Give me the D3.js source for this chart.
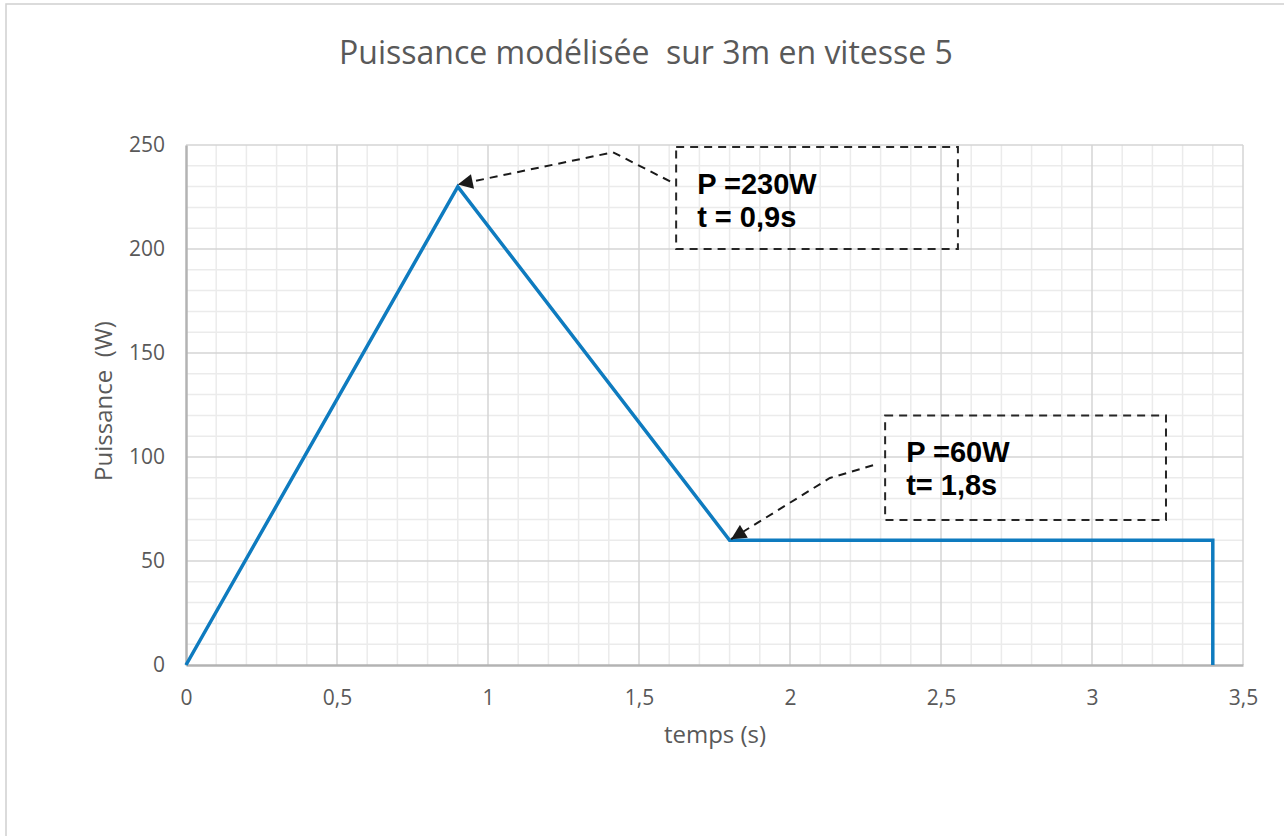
<!DOCTYPE html>
<html>
<head>
<meta charset="utf-8">
<script src="https://cdn.jsdelivr.net/npm/d3@7"></script>
<style>
  body { margin: 0; background: #fff; }
  text { font-family: "Open Sans", sans-serif; }
</style>
</head>
<body>
<div id="chart"></div>
<script>
var svgWidth = 1284;
var svgHeight = 836;

var margin = { top: 145, right: 41, bottom: 171, left: 186 };
var width = svgWidth - margin.left - margin.right;
var height = svgHeight - margin.top - margin.bottom;

// data
var temps = [0, 0.9, 1.8, 3.4, 3.4];
var puissance = [0, 230, 60, 60, 0];
var xTicks = [0, 0.5, 1, 1.5, 2, 2.5, 3, 3.5];
var yTicks = [0, 50, 100, 150, 200, 250];

// annotation boxes (data units) and their texts
var boxX = [[1.623, 2.556], [2.315, 3.245]];
var boxY = [[249, 200], [120, 69.7]];
var boxLines = [["P =230W", "t = 0,9s"], ["P =60W", "t= 1,8s"]];
// leader lines, last point is the arrow tip
var leaderT = [[1.603, 1.414, 0.9], [2.275, 2.132, 1.805]];
var leaderP = [[232.5, 246.5, 231], [96, 89.9, 60.5]];

var svg = d3.select("#chart")
  .append("svg")
  .attr("width", svgWidth)
  .attr("height", svgHeight);

// outer chart border (only top and left show)
svg.append("rect")
  .attr("x", 6).attr("y", 4)
  .attr("width", 1300).attr("height", 900)
  .attr("fill", "none")
  .attr("stroke", "#d0d0d0")
  .attr("stroke-width", 1.5);

var defs = svg.append("defs");
defs.append("marker")
  .attr("id", "arrow")
  .attr("viewBox", "0 0 10 10")
  .attr("refX", 10).attr("refY", 5)
  .attr("markerWidth", 17).attr("markerHeight", 15)
  .attr("markerUnits", "userSpaceOnUse")
  .attr("orient", "auto")
  .append("path")
  .attr("d", "M0,0 L10,5 L0,10 z")
  .attr("fill", "#1a1a1a");

var chartGroup = svg.append("g")
  .attr("transform", `translate(${margin.left}, ${margin.top})`);

var x = d3.scaleLinear().domain([0, 3.5]).range([0, width]);
var y = d3.scaleLinear().domain([0, 250]).range([height, 0]);

// minor grid
chartGroup.append("g")
  .selectAll("line")
  .data(d3.range(1, 35).map(d => d / 10).filter(d => Math.round(d * 10) % 5 != 0))
  .enter().append("line")
  .attr("x1", d => x(d)).attr("x2", d => x(d))
  .attr("y1", 0).attr("y2", height)
  .attr("stroke", "#ebebeb").attr("stroke-width", 1.5);

chartGroup.append("g")
  .selectAll("line")
  .data(d3.range(10, 250, 10).filter(d => d % 50 != 0))
  .enter().append("line")
  .attr("x1", 0).attr("x2", width)
  .attr("y1", d => y(d)).attr("y2", d => y(d))
  .attr("stroke", "#ebebeb").attr("stroke-width", 1.5);

// major grid
chartGroup.append("g")
  .selectAll("line")
  .data(xTicks.slice(1))
  .enter().append("line")
  .attr("x1", d => x(d)).attr("x2", d => x(d))
  .attr("y1", 0).attr("y2", height)
  .attr("stroke", "#d4d4d4").attr("stroke-width", 1.5);

chartGroup.append("g")
  .selectAll("line")
  .data(yTicks.slice(1))
  .enter().append("line")
  .attr("x1", 0).attr("x2", width)
  .attr("y1", d => y(d)).attr("y2", d => y(d))
  .attr("stroke", "#d4d4d4").attr("stroke-width", 1.5);

// axes
var fmt = d => String(d).replace(".", ",");
var bottomAxis = d3.axisBottom(x).tickValues(xTicks).tickSize(0).tickPadding(25).tickFormat(fmt);
var leftAxis = d3.axisLeft(y).tickValues(yTicks).tickSize(0).tickPadding(21).tickFormat(fmt);

var xAxis = chartGroup.append("g")
  .attr("transform", `translate(0,${height})`)
  .call(bottomAxis);
var yAxis = chartGroup.append("g").call(leftAxis);

[xAxis, yAxis].forEach(function (a) {
  a.select(".domain").attr("stroke", "#b3b3b3").attr("stroke-width", 2.5);
  a.selectAll("text")
    .attr("fill", "#595959")
    .style("font-size", "21px")
    .style("font-family", "'Open Sans', sans-serif");
});

// data line
var line = d3.line()
  .x((d, i) => x(temps[i]))
  .y((d, i) => y(puissance[i]));

chartGroup.append("path")
  .datum(puissance)
  .attr("d", line)
  .attr("fill", "none")
  .attr("stroke", "#0e7bbf")
  .attr("stroke-width", 3.5)
  .attr("stroke-linejoin", "miter");

// annotations
boxX.forEach(function (bx, i) {
  chartGroup.append("rect")
    .attr("x", x(bx[0]))
    .attr("y", y(boxY[i][0]))
    .attr("width", x(bx[1]) - x(bx[0]))
    .attr("height", y(boxY[i][1]) - y(boxY[i][0]))
    .attr("fill", "none")
    .attr("stroke", "#262626")
    .attr("stroke-width", 2)
    .attr("stroke-dasharray", "8,6");

  boxLines[i].forEach(function (t, j) {
    chartGroup.append("text")
      .attr("x", x(bx[0]) + 21)
      .attr("y", y(boxY[i][0]) + 47 + j * 33)
      .text(t)
      .style("font-family", "'Liberation Sans', Arial, sans-serif")
      .style("font-weight", "bold")
      .style("font-size", "29px")
      .attr("fill", "#000");
  });

  var pts = leaderT[i].map((t, k) => [x(t), y(leaderP[i][k])]);
  chartGroup.append("path")
    .attr("d", d3.line()(pts))
    .attr("fill", "none")
    .attr("stroke", "#1a1a1a")
    .attr("stroke-width", 2)
    .attr("stroke-dasharray", "8,6")
    .attr("marker-end", "url(#arrow)");
});

// titles
svg.append("text")
  .attr("x", 646).attr("y", 64)
  .attr("text-anchor", "middle")
  .attr("fill", "#595959")
  .style("font-size", "32px")
  .style("white-space", "pre")
  .text("Puissance modélisée  sur 3m en vitesse 5");

svg.append("text")
  .attr("x", 715).attr("y", 743)
  .attr("text-anchor", "middle")
  .attr("fill", "#595959")
  .style("font-size", "24px")
  .text("temps (s)");

svg.append("text")
  .attr("transform", "translate(112,401) rotate(-90)")
  .attr("text-anchor", "middle")
  .attr("fill", "#595959")
  .style("font-size", "24px")
  .style("white-space", "pre")
  .text("Puissance  (W)");
</script>
</body>
</html>
